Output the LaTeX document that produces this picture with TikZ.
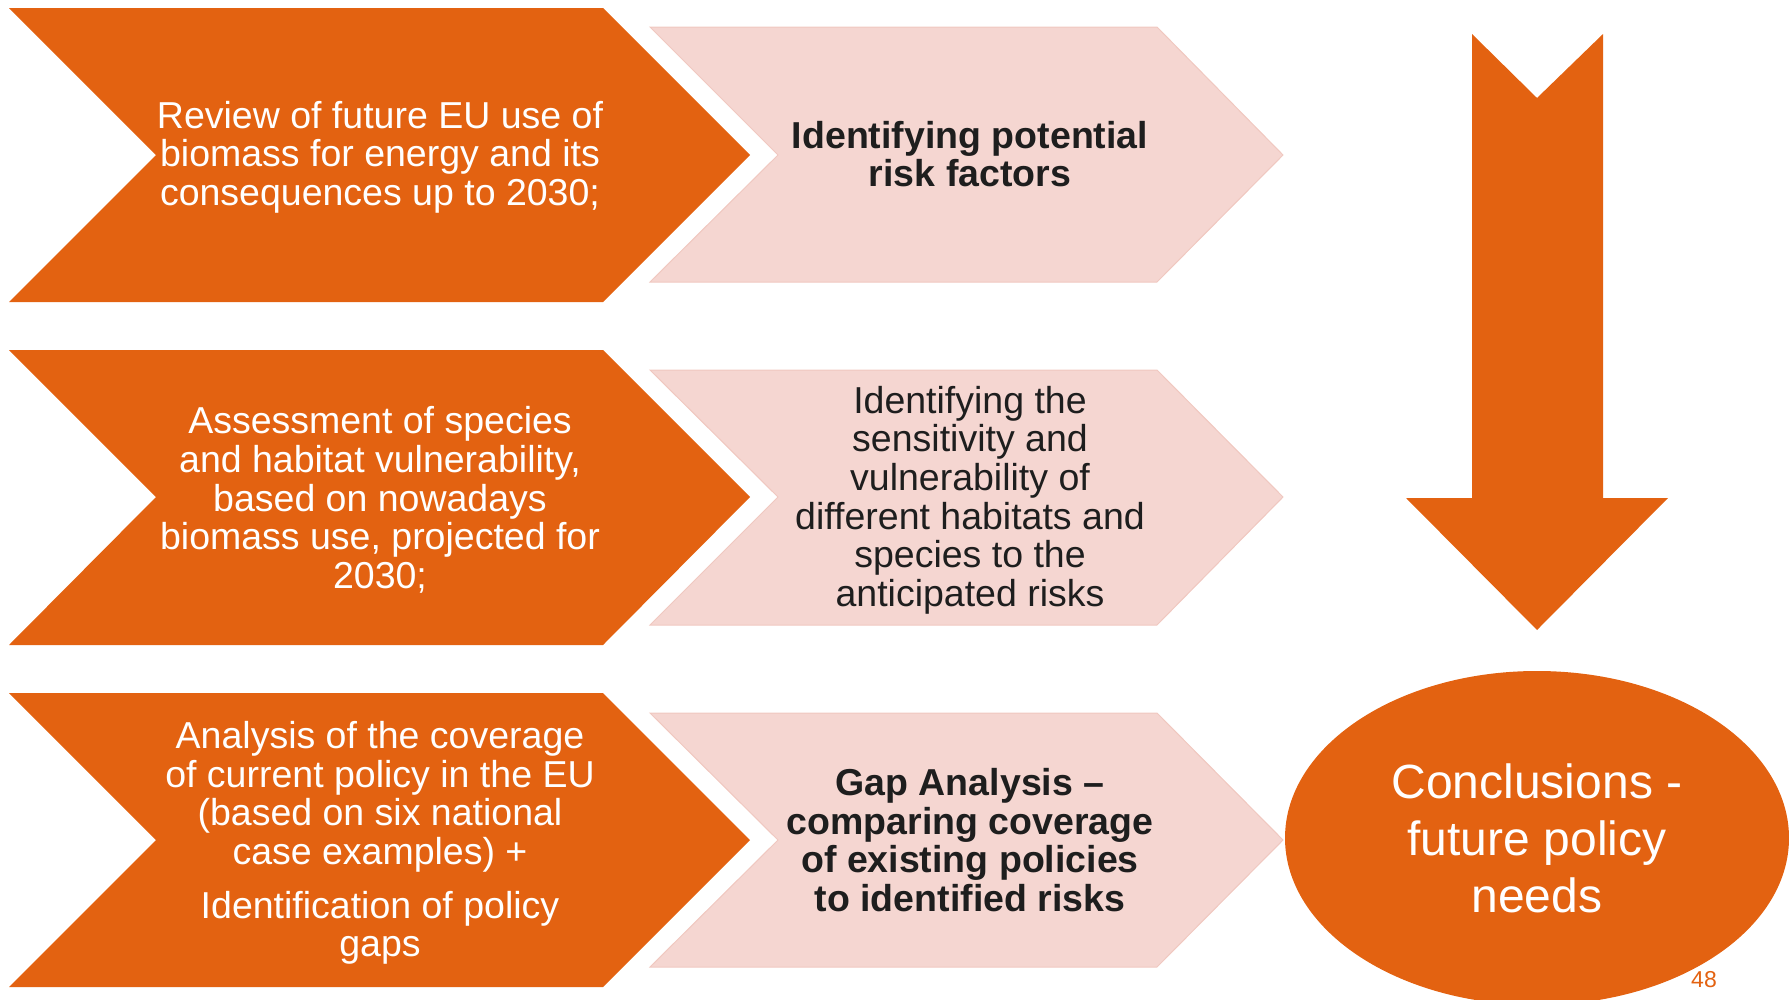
\documentclass[tikz,border=0pt]{standalone}
\usepackage{fontspec}
\setmainfont{Liberation Sans}
\usetikzlibrary{shapes.geometric}
\definecolor{orng}{RGB}{227,98,17}
\definecolor{pnk}{RGB}{245,214,209}
\definecolor{pnkedge}{RGB}{240,200,192}
\definecolor{txt}{RGB}{30,30,30}
\begin{document}
\begin{tikzpicture}[x=1pt,y=-1pt,
  ochev/.style={fill=orng,draw=none},
  pchev/.style={fill=pnk,draw=pnkedge,line width=1pt},
  otext/.style={text=white,font=\fontsize{37.5}{38.6}\selectfont,align=center,inner sep=0pt},
  ptext/.style={text=txt,font=\fontsize{37.5}{38.6}\selectfont,align=center,inner sep=0pt},
  pbold/.style={ptext,font=\fontsize{37.5}{38.6}\selectfont\bfseries}]
\useasboundingbox (0,0) rectangle (1789,999);
% orange chevrons
\path[ochev] (9,8) -- (603,8) -- (750,155) -- (603,302) -- (9,302) -- (156,155) -- cycle;
\path[ochev] (9,350) -- (603,350) -- (750,497) -- (603,645) -- (9,645) -- (156,497) -- cycle;
\path[ochev] (9,693) -- (603,693) -- (750,840) -- (603,987) -- (9,987) -- (156,840) -- cycle;
% pink chevrons
\path[pchev] (650,27) -- (1157,27) -- (1283,155) -- (1157,282) -- (650,282) -- (778,155) -- cycle;
\path[pchev] (650,370) -- (1157,370) -- (1283,497) -- (1157,625) -- (650,625) -- (778,497) -- cycle;
\path[pchev] (650,713) -- (1157,713) -- (1283,840) -- (1157,967) -- (650,967) -- (778,840) -- cycle;
% down arrow
\path[ochev] (1472,34) -- (1537,98) -- (1603,34) -- (1603,498) -- (1668,498) -- (1537,630) -- (1406,498) -- (1472,498) -- cycle;
% texts
\node[otext] (o1) at (380,157) {Review of future EU use of\\biomass for energy and its\\consequences up to 2030;};
\node[otext] (o2) at (380,500) {Assessment of species\\and habitat vulnerability,\\based on nowadays\\biomass use, projected for\\2030;};
\node[otext] (o3) at (380,843) {Analysis of the coverage\\of current policy in the EU\\(based on six national\\case examples) +\\[15pt]Identification of policy\\gaps};
\node[pbold] (p1) at (970,154) {Identifying potential\\risk factors};
\node[ptext] (p2) at (970,500) {Identifying the\\sensitivity and\\vulnerability of\\different habitats and\\species to the\\anticipated risks};
\node[pbold] (p3) at (970,840) {Gap Analysis –\\comparing coverage\\of existing policies\\to identified risks};
% conclusions ellipse
\node[ellipse,fill=orng,draw=none,minimum width=504pt,minimum height=334pt,inner sep=0pt,
  text=white,font=\fontsize{48}{57}\selectfont,align=center] (c) at (1537,838) {Conclusions -\\future policy\\needs};
\node[text=orng,font=\fontsize{23}{26}\selectfont,anchor=base,inner sep=0pt] (pg) at (1704,987) {48};
\end{tikzpicture}
\end{document}
